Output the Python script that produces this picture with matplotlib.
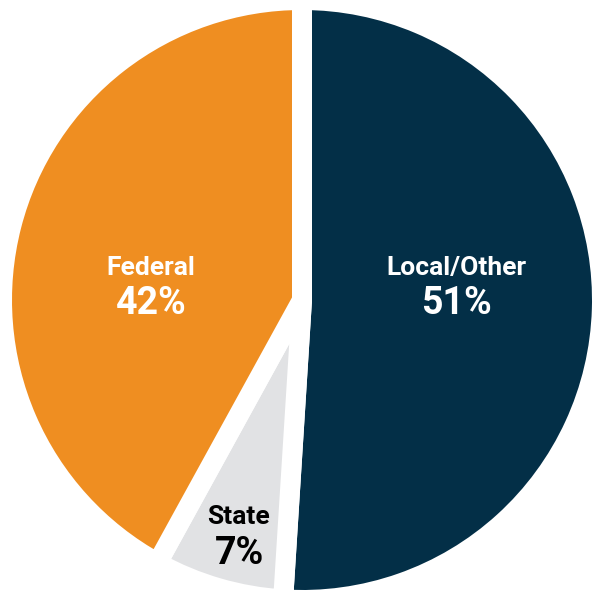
import matplotlib.pyplot as plt

labels = ["Local/Other", "State", "Federal"]
shares = [51, 7, 42]
colors = ["#032F47", "#E1E2E4", "#EF8E21"]
text_colors = ["white", "black", "white"]
# label anchor positions (pixels, from bottom-left)
label_pos = [(456, 305), (239, 56), (151, 305)]

W, H = 594, 591
fig = plt.figure(figsize=(W / 100, H / 100), dpi=100)
ax = fig.add_axes([0, 0, 1, 1])

ax.pie(shares, colors=colors, startangle=90, counterclock=False,
       center=(302, 291), radius=300,
       wedgeprops=dict(edgecolor="white", linewidth=14.4, joinstyle="round"))

for lab, val, tc, (x, y) in zip(labels, shares, text_colors, label_pos):
    ax.text(x, y + 18, lab, ha="center", va="center", color=tc,
            fontsize=19, fontweight="bold", family=["Roboto", "DejaVu Sans"])
    ax.text(x, y - 18, f"{val}%", ha="center", va="center", color=tc,
            fontsize=27, fontweight="bold", family=["Roboto", "DejaVu Sans"])

ax.set_xlim(0, W)
ax.set_ylim(0, H)
ax.set_aspect("equal")
ax.axis("off")

plt.savefig("out.png", dpi=100)
plt.close()
